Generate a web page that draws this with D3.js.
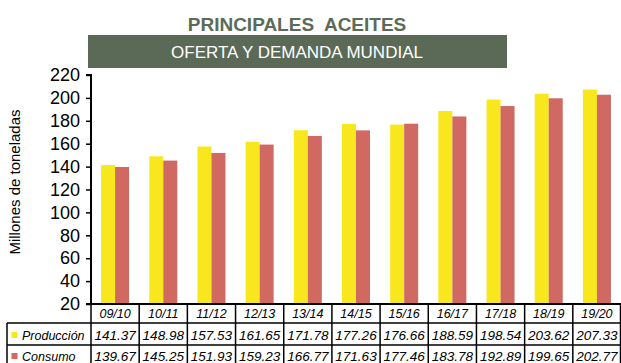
<!DOCTYPE html>
<html>
<head>
<meta charset="utf-8">
<script src="https://cdn.jsdelivr.net/npm/d3@7"></script>
<style>
  html, body { margin: 0; padding: 0; background: #fff; }
  svg { display: block; font-family: "Liberation Sans", Arial, sans-serif; }
</style>
</head>
<body>
<svg id="chart" width="621" height="363"></svg>
<script>
// Campaigns and world oil supply/demand (million tonnes)
const campaigns = ["09/10","10/11","11/12","12/13","13/14","14/15","15/16","16/17","17/18","18/19","19/20"];
const produccion = [141.37,148.98,157.53,161.65,171.78,177.26,176.66,188.59,198.54,203.62,207.33];
const consumo    = [139.67,145.25,151.93,159.23,166.77,171.63,177.46,183.78,192.89,199.65,202.77];
const yTicks = [20,40,60,80,100,120,140,160,180,200,220];
const seriesNames = ["Producción","Consumo"];
const colors = ["#f8e71c","#cf6962"];

const svg = d3.select("#chart");
const plotLeft = 91, plotRight = 621, plotTop = 75, plotBottom = 304;

const x = d3.scaleBand().domain(campaigns).range([plotLeft, plotRight]).paddingInner(0).paddingOuter(0);
const y = d3.scaleLinear().domain([20, 220]).range([plotBottom, plotTop]);
const barW = 14;

// Title and banner
svg.append("text")
  .attr("x", 297).attr("y", 31)
  .attr("text-anchor", "middle")
  .attr("font-size", 19).attr("font-weight", "bold")
  .attr("fill", "#5b6b58")
  .style("white-space", "pre")
  .text("PRINCIPALES  ACEITES");
svg.append("rect")
  .attr("x", 88).attr("y", 35).attr("width", 419).attr("height", 33)
  .attr("fill", "#5b6a57");
svg.append("text")
  .attr("x", 297).attr("y", 58)
  .attr("text-anchor", "middle")
  .attr("font-size", 17)
  .attr("fill", "#ffffff")
  .text("OFERTA Y DEMANDA MUNDIAL");

// Bars
const series = [produccion, consumo];
series.forEach((vals, s) => {
  svg.append("g").selectAll("rect")
    .data(campaigns)
    .join("rect")
    .attr("x", (d) => x(d) + x.bandwidth() / 2 - barW + s * barW)
    .attr("y", (d, i) => y(vals[i]))
    .attr("width", barW)
    .attr("height", (d, i) => y(20) - y(vals[i]))
    .attr("fill", colors[s]);
});

// Y axis
const yAxis = svg.append("g")
  .attr("transform", `translate(${plotLeft},0)`)
  .call(d3.axisLeft(y).tickValues(yTicks).tickSize(5).tickPadding(6));
yAxis.select(".domain").attr("stroke", "#000").attr("stroke-width", 2).attr("d", `M-5,${plotTop}H0V${plotBottom}H-5`);
yAxis.selectAll(".tick line").attr("stroke", "#000").attr("stroke-width", 1.5);
yAxis.selectAll(".tick text")
  .attr("font-size", 18).attr("fill", "#000")
  .attr("font-family", "'Liberation Sans', Arial, sans-serif");

svg.append("text")
  .attr("transform", "translate(20,182) rotate(-90)")
  .attr("text-anchor", "middle")
  .attr("font-size", 15)
  .attr("fill", "#000")
  .text("Millones de toneladas");

// Data table under the axis
const rowBot = 367;
const tableLeft = 7;
const tg = svg.append("g").attr("stroke", "#000").attr("stroke-width", 1.5);
tg.append("line").attr("x1", plotLeft - 5).attr("x2", plotRight).attr("y1", plotBottom).attr("y2", plotBottom).attr("stroke-width", 2);
[323, 345].forEach(yy => tg.append("line").attr("x1", tableLeft).attr("x2", plotRight).attr("y1", yy).attr("y2", yy));
campaigns.forEach(c => {
  tg.append("line").attr("x1", x(c)).attr("x2", x(c)).attr("y1", plotBottom).attr("y2", rowBot);
});
tg.append("line").attr("x1", plotRight - 0.5).attr("x2", plotRight - 0.5).attr("y1", plotBottom).attr("y2", rowBot);
tg.append("line").attr("x1", tableLeft).attr("x2", tableLeft).attr("y1", 323).attr("y2", rowBot);

// header labels
svg.append("g").selectAll("text")
  .data(campaigns)
  .join("text")
  .attr("x", d => x(d) + x.bandwidth() / 2)
  .attr("y", 318)
  .attr("text-anchor", "middle")
  .attr("font-size", 12.5).attr("font-style", "italic")
  .text(d => d);

// value rows with legend keys
const rowBase = [340, 361];
series.forEach((vals, s) => {
  svg.append("rect")
    .attr("x", 11.5).attr("y", rowBase[s] - 8).attr("width", 6).attr("height", 6)
    .attr("fill", colors[s]);
  svg.append("text")
    .attr("x", 22).attr("y", rowBase[s])
    .attr("font-size", 12.5).attr("font-style", "italic")
    .text(seriesNames[s]);
  svg.append("g").selectAll("text")
    .data(campaigns)
    .join("text")
    .attr("x", d => x(d) + x.bandwidth() / 2)
    .attr("y", rowBase[s])
    .attr("text-anchor", "middle")
    .attr("font-size", 13.5).attr("font-style", "italic")
    .text((d, i) => vals[i].toFixed(2));
});
</script>
</body>
</html>
